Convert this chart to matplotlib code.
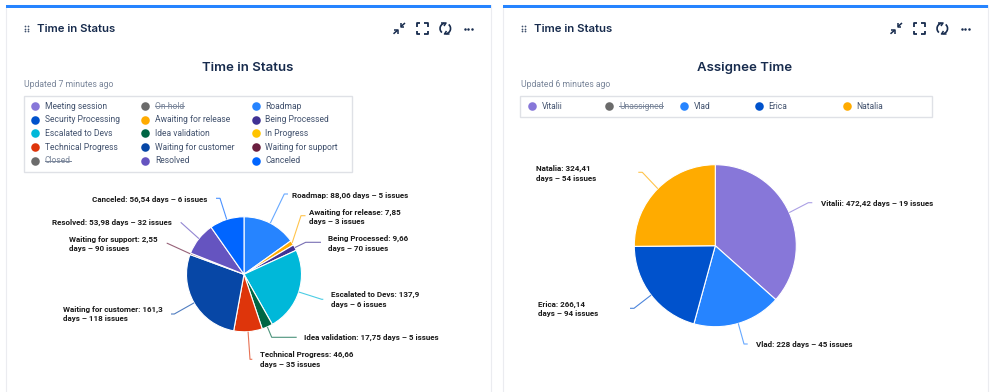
import matplotlib
matplotlib.use("Agg")
from matplotlib import pyplot as plt
from matplotlib.patches import Arc, Rectangle
import numpy as np

W, H = 998, 392

# left panel data
status_names = ["Roadmap", "Awaiting for release", "Being Processed", "Escalated to Devs",
                "Idea validation", "Technical Progress", "Waiting for customer",
                "Waiting for support", "Resolved", "Canceled"]
status_days = [88.06, 7.85, 9.66, 137.9, 17.75, 46.66, 161.3, 2.55, 53.98, 56.54]
status_colors = ["#2684FF", "#FFAB00", "#403294", "#00B8D9", "#006644",
                 "#DE350B", "#0747A6", "#6B1F3F", "#6554C0", "#0065FF"]
status_labels = ["Roadmap: 88,06 days – 5 issues",
                 "Awaiting for release: 7,85\ndays – 3 issues",
                 "Being Processed: 9,66\ndays – 70 issues",
                 "Escalated to Devs: 137,9\ndays – 6 issues",
                 "Idea validation: 17,75 days – 5 issues",
                 "Technical Progress: 46,66\ndays – 35 issues",
                 "Waiting for customer: 161,3\ndays – 118 issues",
                 "Waiting for support: 2,55\ndays – 90 issues",
                 "Resolved: 53,98 days – 32 issues",
                 "Canceled: 56,54 days – 6 issues"]
status_legend = ["Meeting session", "Security Processing", "Escalated to Devs", "Technical Progress", "Closed",
                 "On hold", "Awaiting for release", "Idea validation", "Waiting for customer", "Resolved",
                 "Roadmap", "Being Processed", "In Progress", "Waiting for support", "Canceled"]
status_legend_colors = ["#8777D9", "#0052CC", "#00B8D9", "#DE350B", "#6B6B6B",
                        "#6B6B6B", "#FFAB00", "#006644", "#0747A6", "#6554C0",
                        "#2684FF", "#403294", "#FFC400", "#6B1F3F", "#0065FF"]
status_hidden = ["Closed", "On hold"]

# right panel data
assignee_names = ["Vitalii", "Vlad", "Erica", "Natalia"]
assignee_days = [472.42, 228, 266.14, 324.41]
assignee_colors = ["#8777D9", "#2684FF", "#0052CC", "#FFAB00"]
assignee_labels = ["Vitalii: 472,42 days – 19 issues",
                   "Vlad: 228 days – 45 issues",
                   "Erica: 266,14\ndays – 94 issues",
                   "Natalia: 324,41\ndays – 54 issues"]
assignee_legend = ["Vitalii", "Unassigned", "Vlad", "Erica", "Natalia"]
assignee_legend_colors = ["#8777D9", "#6B6B6B", "#2684FF", "#0052CC", "#FFAB00"]
assignee_hidden = ["Unassigned"]

# layout in pixels, y measured from the top
status_label_pos = [(291.7, 195), (309, 216.7), (327.7, 243.3), (330.7, 299.3), (304, 337.7),
                    (260, 359.3), (62.7, 314), (69.3, 244), (52, 222.3), (92.3, 199.3)]
status_elbows = [[(284.3, 194), (288, 194)], [(301, 215.7), (305.5, 215.7)], [(305.7, 242.3), (321, 242.3)],
                 [(321.7, 299.3), (323.3, 299.3)], [(271.7, 337.3), (296.7, 337.3)], [(250, 359.3), (252.3, 359.3)],
                 [(174.3, 314), (171, 314)], [(167.3, 243.3), (166.7, 243.3)], [(180.7, 222.3), (180.7, 222.3)],
                 [(220, 198.3), (216, 198.3)]]
assignee_label_pos = [(820.7, 203.7), (755.7, 345), (538.3, 309), (535.7, 173.3)]
assignee_elbows = [[(808.3, 202.7), (812.3, 202.7)], [(744, 344), (747.7, 344)],
                   [(634, 308.3), (630, 308.3)], [(642.3, 172.3), (638.3, 172.3)]]

NAVY = "#172B4D"
TEXT = "#42526E"
GREY = "#7A869A"

plt.rcParams['font.family'] = ['Roboto', 'DejaVu Sans']
fig = plt.figure(figsize=(W / 100, H / 100), dpi=100)
ax = fig.add_axes([0, 0, 1, 1])
ax.set_xlim(0, W)
ax.set_ylim(0, H)


def Y(y):
    return H - y


def line(xs, ys, color=NAVY, lw=1.0, **kw):
    ax.plot(xs, [Y(v) for v in ys], color=color, lw=lw, solid_capstyle=kw.pop("cap", "butt"), **kw)


def draw_icons(dx):
    for x in (25.3, 28.3):
        for y in (25.7, 28.5, 31.3):
            ax.scatter(x + dx, Y(y), s=1.6, color="#42526E", linewidths=0)
    # compress
    line([393.5 + dx, 397.5 + dx], [33.8, 30.3], lw=1.1)
    line([398 + dx, 398 + dx, 394.5 + dx], [33.5, 29.6, 29.6], lw=1.1)
    line([405 + dx, 401 + dx], [23, 26.5], lw=1.1)
    line([400.6 + dx, 400.6 + dx, 404 + dx], [23.4, 27.2, 27.2], lw=1.1)
    # expand
    for cx, sx in ((416.8, 1), (427.8, -1)):
        line([cx + 3.3 * sx + dx, cx + dx, cx + dx], [23.3, 23.3, 26.5], lw=1.3)
        line([cx + 3.3 * sx + dx, cx + dx, cx + dx], [33.7, 33.7, 30.5], lw=1.3)
    # refresh
    ax.add_patch(Arc((445.3 + dx, Y(28.5)), 10.5, 10.5, theta1=100, theta2=230, color=NAVY, lw=1.2))
    ax.add_patch(Arc((445.3 + dx, Y(28.5)), 10.5, 10.5, theta1=280, theta2=50, color=NAVY, lw=1.2))
    line([441 + dx, 446 + dx, 444 + dx], [23, 23, 26], lw=1.1)
    line([449.5 + dx, 444.5 + dx, 446.5 + dx], [34, 34, 31], lw=1.1)
    for x in (465, 468.3, 471.6):
        ax.scatter(x + dx, Y(28.5), s=3.2, color=NAVY, linewidths=0)


def draw_card(dx, title, updated, head="Time in Status"):
    ax.add_patch(Rectangle((6 + dx, -2), 485, H - 3, fc="white", ec="#EBECF0", lw=0.8))
    ax.add_patch(Rectangle((6 + dx, Y(7.6)), 485, 2.6, fc="#2684FF", ec="none"))
    ax.text(37 + dx, Y(28.5), head, fontsize=8.2, family=['Inter', 'DejaVu Sans'], weight='semibold',
            color=NAVY, ha="left", va="center")
    ax.text(248 + dx, Y(67.5), title, fontsize=9.5, family=['Inter', 'DejaVu Sans'], weight='semibold',
            color=NAVY, ha="center", va="center")
    ax.text(24 + dx, Y(84.5), updated, fontsize=6.25, color=GREY, ha="left", va="center")
    draw_icons(dx)


def draw_legend(box, items, colors, hidden, xs, ys):
    x0, y0, x1, y1 = box
    ax.add_patch(Rectangle((x0, Y(y1)), x1 - x0, y1 - y0, fc="white", ec="#DFE1E6", lw=1.0))
    struck = []
    for name, color, x, y in zip(items, colors, xs, ys):
        ax.scatter(x, Y(y), s=38, color=color, linewidths=0, zorder=3)
        off = name in hidden
        t = ax.text(x + 9.7, Y(y), name, fontsize=6.15, color=GREY if off else TEXT, ha="left", va="center")
        if off:
            struck.append(t)
    return struck


def draw_pie(center, radius, values, colors, labels, label_pos, elbows):
    wedges, _ = ax.pie(values, colors=colors, center=(center[0], Y(center[1])), radius=radius,
                       startangle=90, counterclock=False, frame=True,
                       wedgeprops=dict(edgecolor="white", linewidth=0.8))
    for w, color, text, pos, pts in zip(wedges, colors, labels, label_pos, elbows):
        a = np.deg2rad((w.theta1 + w.theta2) / 2)
        sx = center[0] + radius * np.cos(a)
        sy = center[1] - radius * np.sin(a)
        line([sx] + [p[0] for p in pts], [sy] + [p[1] for p in pts], color=color, lw=0.8, alpha=0.7)
        ax.text(pos[0], Y(pos[1]), text, fontsize=5.8, weight="bold", color="#1A1A1A",
                ha="left", va="center", linespacing=1.4)


draw_card(0, "Time in Status", "Updated 7 minutes ago")
draw_card(497, "Assignee Time", "Updated 6 minutes ago")

col_x = [35, 145.5, 255.7]
row_y = [106, 119.7, 133.4, 147, 160.7]
struck = draw_legend((24, 95.5, 352, 172), status_legend, status_legend_colors, status_hidden,
                     [x for x in col_x for _ in row_y], row_y * 3)
struck += draw_legend((520.5, 95.5, 932, 117), assignee_legend, assignee_legend_colors, assignee_hidden,
                      [531.7, 609.3, 684, 758.7, 846.7], [106] * 5)

draw_pie((244, 274.3), 57.5, status_days, status_colors, status_labels, status_label_pos, status_elbows)
draw_pie((715.3, 245.7), 81, assignee_days, assignee_colors, assignee_labels, assignee_label_pos, assignee_elbows)

# strike through hidden legend entries
renderer = fig.canvas.get_renderer()
for t in struck:
    bb = t.get_window_extent(renderer)
    ax.plot([bb.x0, bb.x1], [(bb.y0 + bb.y1) / 2] * 2, color=GREY, lw=0.7)

ax.set_xlim(0, W)
ax.set_ylim(0, H)
ax.set_aspect("auto")
ax.axis("off")
fig.savefig("out.png", dpi=100, facecolor="white")
